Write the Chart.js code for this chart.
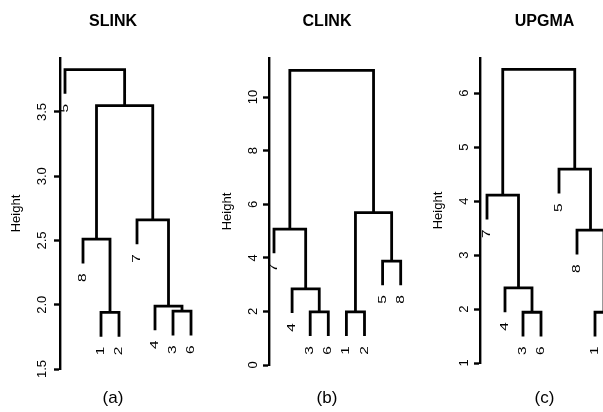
<!DOCTYPE html>
<html>
<head>
<meta charset="utf-8">
<script src="https://cdn.jsdelivr.net/npm/chart.js@4.4.1/dist/chart.umd.min.js"></script>
<style>
  body { margin: 0; background: #fff; width: 603px; height: 412px; overflow: hidden; position: relative; }
  canvas { position: absolute; top: 0; }
</style>
</head>
<body>
<canvas id="slink" width="226" height="412" style="left:0px"></canvas>
<canvas id="clink" width="254" height="412" style="left:200px"></canvas>
<canvas id="upgma" width="289" height="412" style="left:400px"></canvas>
<script>
// leaf labels in the order they are drawn, left to right
const slinkOrder = [5, 8, 1, 2, 7, 4, 3, 6];
// merges like R's hclust: negative = leaf label, positive = earlier merge step
const slinkMerge = [[-1, -2], [-3, -6], [-4, 2], [-8, 1], [-7, 3], [4, 5], [-5, 6]];
const slinkHeight = [1.94, 1.95, 1.99, 2.51, 2.66, 3.55, 3.83];
const slinkTicks = [1.5, 2.0, 2.5, 3.0, 3.5];
const slinkTickLabels = ["1.5", "2.0", "2.5", "3.0", "3.5"];

const clinkOrder = [7, 4, 3, 6, 1, 2, 5, 8];
const clinkMerge = [[-1, -2], [-3, -6], [-4, 2], [-5, -8], [-7, 3], [1, 4], [5, 6]];
const clinkHeight = [1.98, 1.98, 2.84, 3.88, 5.07, 5.69, 11.0];
const clinkTicks = [0, 2, 4, 6, 8, 10];
const clinkTickLabels = ["0", "2", "4", "6", "8", "10"];

const upgmaOrder = [7, 4, 3, 6, 5, 8, 1, 2];
const upgmaMerge = [[-3, -6], [-1, -2], [-4, 1], [-8, 2], [-7, 3], [-5, 4], [5, 6]];
const upgmaHeight = [1.94, 1.94, 2.39, 3.46, 4.11, 4.59, 6.44];
const upgmaTicks = [1, 2, 3, 4, 5, 6];
const upgmaTickLabels = ["1", "2", "3", "4", "5", "6"];

const hang = 0.1; // leaves hang below their merge by this share of the height range

// turn merges into one "n" shaped line per merge
function dendrogram(order, merge, height) {
  const range = Math.max(...height) - Math.min(...height);
  const nodes = [];
  const segments = [];
  const leaves = [];
  merge.forEach((pair, k) => {
    const h = height[k];
    const ends = pair.map(m => {
      if (m < 0) {
        const leaf = { x: order.indexOf(-m) + 1, y: h - hang * range, label: String(-m) };
        leaves.push(leaf);
        return leaf;
      }
      return nodes[m - 1];
    });
    ends.sort((a, b) => a.x - b.x);
    const [l, r] = ends;
    segments.push([{ x: l.x, y: l.y }, { x: l.x, y: h }, { x: r.x, y: h }, { x: r.x, y: r.y }]);
    nodes.push({ x: (l.x + r.x) / 2, y: h });
  });
  return { segments, leaves };
}

function leafLabelPlugin(leaves) {
  return {
    id: "leafLabels",
    afterDatasetsDraw(chart) {
      const { ctx, scales: { x, y } } = chart;
      ctx.save();
      ctx.fillStyle = "#000";
      ctx.font = '11px "Liberation Sans", Arial, sans-serif';
      ctx.textAlign = "right";
      ctx.textBaseline = "middle";
      leaves.forEach(l => {
        ctx.save();
        ctx.translate(x.getPixelForValue(l.x), y.getPixelForValue(l.y) + 10);
        ctx.rotate(-Math.PI / 2);
        ctx.scale(1.4, 1);
        ctx.fillText(l.label, 0, 0);
        ctx.restore();
      });
      ctx.restore();
    }
  };
}

const panels = [
  { id: "slink", title: "SLINK", caption: "(a)", order: slinkOrder, merge: slinkMerge, height: slinkHeight,
    ticks: slinkTicks, tickLabels: slinkTickLabels, yMin: 1.5, yMax: 3.92,
    axisW: 60, xMin: 0.7222, xMax: 9.944, tickPad: 2.3, heightPad: 8.2, bottom: 369 },
  { id: "clink", title: "CLINK", caption: "(b)", order: clinkOrder, merge: clinkMerge, height: clinkHeight,
    ticks: clinkTicks, tickLabels: clinkTickLabels, yMin: 0, yMax: 11.46,
    axisW: 69, xMin: 0.7238, xMax: 10.945, tickPad: 2.8, heightPad: 19.2, bottom: 365 },
  { id: "upgma", title: "UPGMA", caption: "(c)", order: upgmaOrder, merge: upgmaMerge, height: upgmaHeight,
    ticks: upgmaTicks, tickLabels: upgmaTickLabels, yMin: 1, yMax: 6.65,
    axisW: 80, xMin: 0.6111, xMax: 12.222, tickPad: 5.9, heightPad: 30.2, bottom: 363 }
];

panels.forEach(p => {
  const d = dendrogram(p.order, p.merge, p.height);
  new Chart(document.getElementById(p.id), {
    type: "line",
    data: {
      datasets: d.segments.map(s => ({
        data: s,
        borderColor: "#000",
        borderWidth: 2.8,
        borderJoinStyle: "miter",
        borderCapStyle: "butt",
        pointRadius: 0,
        tension: 0
      }))
    },
    options: {
      responsive: false,
      animation: false,
      events: [],
      layout: { padding: 0 },
      plugins: {
        legend: { display: false },
        tooltip: { enabled: false },
        title: {
          display: true,
          text: p.title,
          color: "#000",
          font: { family: '"Liberation Sans", Arial, sans-serif', size: 16, weight: "bold" },
          padding: { top: 12.4, bottom: 26.4 }
        },
        subtitle: {
          display: true,
          position: "bottom",
          text: p.caption,
          color: "#000",
          font: { family: '"Liberation Sans", Arial, sans-serif', size: 17 },
          padding: { top: 398.5 - p.bottom - 10.2, bottom: 3.3 }
        }
      },
      scales: {
        x: { type: "linear", min: p.xMin, max: p.xMax, display: false },
        y: {
          type: "linear",
          min: p.yMin,
          max: p.yMax,
          afterBuildTicks: s => { s.ticks = p.ticks.map(v => ({ value: v })); },
          afterFit: s => { s.width = p.axisW; },
          border: { display: true, color: "#000", width: 2.4 },
          grid: { drawOnChartArea: false, drawTicks: true, tickLength: 6, tickWidth: 2.4, tickColor: "#000" },
          ticks: {
            minRotation: 90,
            maxRotation: 90,
            crossAlign: "center",
            padding: p.tickPad,
            color: "#000",
            font: { family: '"Liberation Sans", Arial, sans-serif', size: 13 },
            callback: (v, i) => p.tickLabels[i]
          },
          title: {
            display: true,
            text: "Height",
            color: "#000",
            font: { family: '"Liberation Sans", Arial, sans-serif', size: 13 },
            padding: { top: p.heightPad, bottom: 0 }
          }
        }
      }
    },
    plugins: [leafLabelPlugin(d.leaves)]
  });
});
</script>
</body>
</html>
